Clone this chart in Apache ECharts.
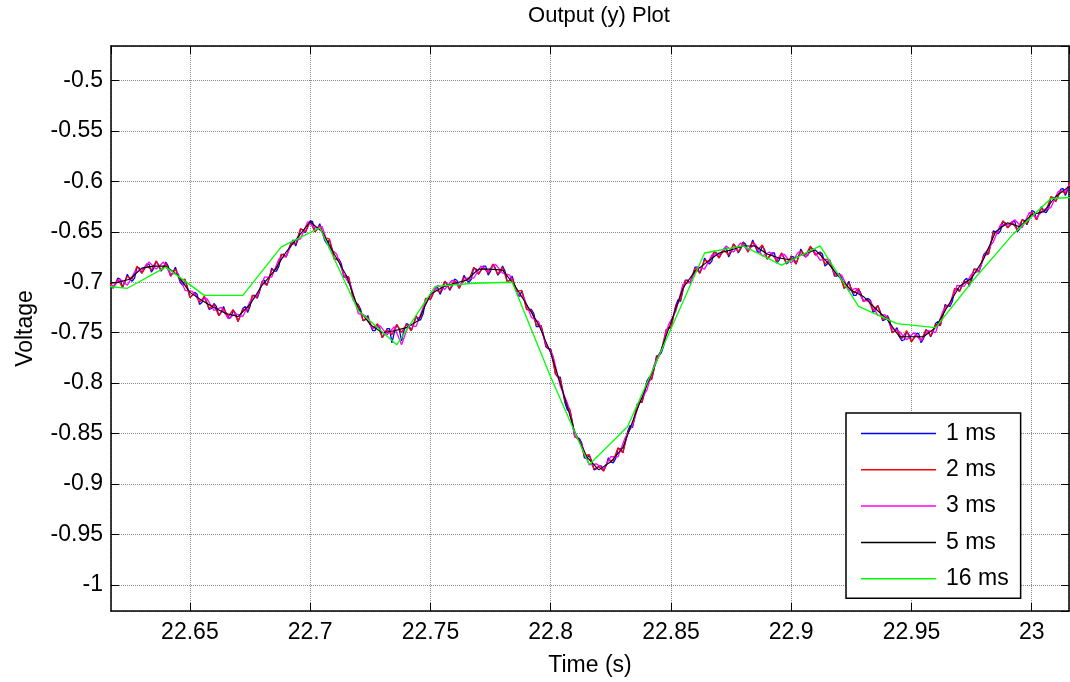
<!DOCTYPE html>
<html>
<head>
<meta charset="utf-8">
<script src="https://cdn.jsdelivr.net/npm/echarts@6/dist/echarts.min.js"></script>
<style>
html,body{margin:0;padding:0;background:#fff;}
#chart{width:1070px;height:682px;}
</style>
</head>
<body>
<div id="chart"></div>
<script>
// ---- data (Voltage samples) ----
const seriesNames = ['1 ms', '2 ms', '3 ms', '5 ms', '16 ms'];
const startTimes = [22.616, 22.616, 22.615, 22.615, 22.608];
const sampleSteps = [0.001, 0.002, 0.003, 0.005, 0.016];

const volt1ms = [
-0.697,-0.700,-0.706,-0.702,-0.696,-0.697,-0.705,-0.699,-0.692,-0.697,
-0.699,-0.696,-0.685,-0.686,-0.691,-0.687,-0.682,-0.682,-0.690,-0.686,
-0.679,-0.683,-0.689,-0.686,-0.680,-0.684,-0.694,-0.690,-0.685,-0.693,
-0.700,-0.703,-0.698,-0.705,-0.715,-0.713,-0.710,-0.712,-0.722,-0.720,
-0.714,-0.720,-0.727,-0.726,-0.721,-0.724,-0.733,-0.730,-0.724,-0.731,
-0.736,-0.735,-0.728,-0.731,-0.739,-0.733,-0.726,-0.724,-0.730,-0.724,
-0.713,-0.713,-0.716,-0.709,-0.699,-0.698,-0.703,-0.696,-0.686,-0.689,
-0.689,-0.684,-0.673,-0.672,-0.675,-0.668,-0.661,-0.658,-0.664,-0.657,
-0.647,-0.648,-0.651,-0.645,-0.639,-0.640,-0.650,-0.647,-0.642,-0.650,
-0.658,-0.662,-0.658,-0.666,-0.677,-0.677,-0.677,-0.682,-0.695,-0.695,
-0.695,-0.705,-0.718,-0.721,-0.722,-0.727,-0.738,-0.737,-0.733,-0.742,
-0.748,-0.748,-0.742,-0.746,-0.755,-0.751,-0.746,-0.746,-0.760,-0.750,
-0.742,-0.746,-0.758,-0.748,-0.741,-0.742,-0.748,-0.742,-0.733,-0.738,
-0.737,-0.731,-0.717,-0.715,-0.717,-0.712,-0.706,-0.705,-0.712,-0.707,
-0.699,-0.702,-0.708,-0.704,-0.697,-0.698,-0.706,-0.700,-0.693,-0.698,
-0.700,-0.697,-0.686,-0.687,-0.692,-0.688,-0.684,-0.684,-0.693,-0.689,
-0.682,-0.686,-0.693,-0.690,-0.684,-0.689,-0.700,-0.698,-0.694,-0.703,
-0.711,-0.714,-0.709,-0.716,-0.727,-0.727,-0.727,-0.731,-0.744,-0.744,
-0.743,-0.752,-0.764,-0.766,-0.766,-0.776,-0.791,-0.794,-0.794,-0.808,
-0.820,-0.827,-0.827,-0.838,-0.853,-0.854,-0.855,-0.860,-0.874,-0.875,
-0.871,-0.877,-0.886,-0.885,-0.882,-0.882,-0.887,-0.882,-0.874,-0.878,
-0.879,-0.875,-0.865,-0.865,-0.869,-0.859,-0.848,-0.842,-0.844,-0.834,
-0.821,-0.819,-0.819,-0.810,-0.798,-0.794,-0.796,-0.786,-0.773,-0.773,
-0.770,-0.763,-0.748,-0.745,-0.745,-0.734,-0.723,-0.717,-0.719,-0.708,
-0.698,-0.698,-0.701,-0.694,-0.685,-0.685,-0.691,-0.685,-0.676,-0.680,
-0.682,-0.679,-0.670,-0.671,-0.676,-0.671,-0.667,-0.666,-0.675,-0.670,
-0.662,-0.665,-0.671,-0.667,-0.660,-0.662,-0.670,-0.665,-0.658,-0.664,
-0.670,-0.670,-0.664,-0.668,-0.677,-0.674,-0.671,-0.671,-0.681,-0.678,
-0.671,-0.676,-0.682,-0.680,-0.674,-0.675,-0.682,-0.675,-0.667,-0.672,
-0.675,-0.673,-0.665,-0.667,-0.673,-0.671,-0.670,-0.672,-0.684,-0.682,
-0.678,-0.685,-0.694,-0.694,-0.691,-0.696,-0.706,-0.704,-0.699,-0.708,
-0.713,-0.713,-0.707,-0.711,-0.719,-0.717,-0.716,-0.718,-0.730,-0.728,
-0.723,-0.729,-0.738,-0.737,-0.733,-0.738,-0.750,-0.748,-0.745,-0.754,
-0.758,-0.757,-0.749,-0.752,-0.759,-0.755,-0.751,-0.751,-0.760,-0.756,
-0.747,-0.749,-0.754,-0.749,-0.741,-0.739,-0.743,-0.733,-0.722,-0.724,
-0.724,-0.719,-0.707,-0.706,-0.709,-0.703,-0.698,-0.696,-0.704,-0.698,
-0.687,-0.687,-0.690,-0.683,-0.673,-0.670,-0.672,-0.662,-0.649,-0.650,
-0.652,-0.649,-0.640,-0.641,-0.646,-0.643,-0.640,-0.640,-0.650,-0.647,
-0.638,-0.639,-0.643,-0.637,-0.629,-0.630,-0.638,-0.632,-0.625,-0.630,
-0.631,-0.627,-0.616,-0.616,-0.620,-0.614,-0.608,-0.607,-0.614,-0.608,
-0.600
];

const volt2ms = [
-0.697,-0.705,-0.697,-0.705,-0.694,-0.697,-0.684,-0.691,-0.683,-0.688,
-0.679,-0.688,-0.681,-0.694,-0.687,-0.698,-0.697,-0.715,-0.711,-0.720,
-0.714,-0.726,-0.722,-0.733,-0.726,-0.734,-0.727,-0.739,-0.727,-0.728,
-0.713,-0.715,-0.700,-0.703,-0.688,-0.687,-0.672,-0.675,-0.662,-0.662,
-0.647,-0.650,-0.640,-0.650,-0.644,-0.656,-0.657,-0.677,-0.678,-0.693,
-0.695,-0.717,-0.723,-0.738,-0.735,-0.746,-0.741,-0.755,-0.747,-0.752,
-0.742,-0.750,-0.742,-0.748,-0.735,-0.735,-0.716,-0.717,-0.707,-0.710,
-0.699,-0.707,-0.698,-0.706,-0.695,-0.698,-0.685,-0.692,-0.685,-0.691,
-0.682,-0.692,-0.685,-0.700,-0.696,-0.709,-0.708,-0.727,-0.728,-0.742,
-0.743,-0.763,-0.767,-0.791,-0.796,-0.818,-0.826,-0.853,-0.856,-0.872,
-0.871,-0.885,-0.883,-0.887,-0.876,-0.877,-0.864,-0.869,-0.849,-0.842,
-0.821,-0.818,-0.799,-0.796,-0.775,-0.768,-0.747,-0.745,-0.724,-0.717,
-0.698,-0.700,-0.686,-0.691,-0.678,-0.680,-0.669,-0.676,-0.668,-0.673,
-0.662,-0.670,-0.661,-0.670,-0.660,-0.668,-0.663,-0.677,-0.672,-0.679,
-0.671,-0.681,-0.675,-0.682,-0.669,-0.673,-0.664,-0.673,-0.671,-0.682,
-0.678,-0.693,-0.692,-0.706,-0.701,-0.711,-0.706,-0.719,-0.717,-0.728,
-0.723,-0.737,-0.734,-0.750,-0.747,-0.756,-0.748,-0.759,-0.752,-0.758,
-0.747,-0.753,-0.742,-0.743,-0.724,-0.722,-0.706,-0.709,-0.699,-0.702,
-0.687,-0.689,-0.674,-0.672,-0.651,-0.650,-0.639,-0.646,-0.641,-0.648,
-0.638,-0.642,-0.630,-0.638,-0.627,-0.629,-0.615,-0.620,-0.609,-0.612,
-0.600
];

const volt3ms = [
-0.698,-0.705,-0.697,-0.703,-0.690,-0.688,-0.680,-0.687,-0.680,-0.692,
-0.691,-0.708,-0.709,-0.718,-0.716,-0.728,-0.725,-0.736,-0.731,-0.734,
-0.719,-0.713,-0.695,-0.695,-0.677,-0.674,-0.659,-0.657,-0.640,-0.646,
-0.645,-0.666,-0.672,-0.693,-0.704,-0.731,-0.733,-0.746,-0.743,-0.752,
-0.744,-0.762,-0.742,-0.744,-0.725,-0.714,-0.703,-0.707,-0.698,-0.704,
-0.696,-0.696,-0.684,-0.689,-0.682,-0.691,-0.693,-0.711,-0.716,-0.735,
-0.739,-0.761,-0.773,-0.803,-0.820,-0.852,-0.861,-0.881,-0.880,-0.885,
-0.873,-0.873,-0.854,-0.842,-0.818,-0.807,-0.782,-0.768,-0.742,-0.729,
-0.702,-0.700,-0.685,-0.687,-0.673,-0.673,-0.664,-0.670,-0.661,-0.668,
-0.662,-0.674,-0.670,-0.677,-0.672,-0.681,-0.670,-0.675,-0.667,-0.678,
-0.677,-0.691,-0.693,-0.708,-0.706,-0.718,-0.719,-0.733,-0.732,-0.746,
-0.749,-0.757,-0.750,-0.758,-0.748,-0.750,-0.729,-0.722,-0.703,-0.704,
-0.692,-0.689,-0.670,-0.660,-0.643,-0.643,-0.638,-0.646,-0.631,-0.636,
-0.628,-0.626,-0.610,-0.610,-0.599
];

const volt5ms = [
-0.702,-0.700,-0.697,-0.686,-0.684,-0.684,-0.693,-0.710,-0.718,-0.725,
-0.731,-0.734,-0.722,-0.703,-0.689,-0.670,-0.655,-0.640,-0.650,-0.672,
-0.693,-0.726,-0.742,-0.750,-0.748,-0.745,-0.738,-0.712,-0.705,-0.701,
-0.698,-0.687,-0.687,-0.688,-0.703,-0.722,-0.742,-0.770,-0.808,-0.848,
-0.873,-0.886,-0.878,-0.864,-0.832,-0.802,-0.773,-0.740,-0.706,-0.689,
-0.680,-0.671,-0.668,-0.664,-0.664,-0.672,-0.676,-0.678,-0.672,-0.668,
-0.680,-0.695,-0.708,-0.714,-0.726,-0.737,-0.754,-0.754,-0.754,-0.745,
-0.724,-0.704,-0.696,-0.677,-0.650,-0.641,-0.645,-0.633,-0.630,-0.615,
-0.606,-0.600
];

const volt16ms = [
-0.702,-0.706,-0.685,-0.713,-0.713,-0.665,-0.646,-0.728,-0.762,-0.704,
-0.701,-0.700,-0.794,-0.881,-0.843,-0.757,-0.671,-0.664,-0.683,-0.664,
-0.724,-0.741,-0.745,-0.697,-0.653,-0.617,-0.615
];

const xTickStep = 0.05;
const yTickStep = 0.05;

// ---- chart ----
const seriesValues = [volt1ms, volt2ms, volt3ms, volt5ms, volt16ms];
const colors = ['#0000ff', '#ff0000', '#ff00ff', '#000000', '#00ff00'];
const FONT = "'Liberation Sans', Arial, Helvetica, sans-serif";

function toPairs(t0, dt, vals) {
  return vals.map(function (v, i) { return [+(t0 + i * dt).toFixed(4), v]; });
}

const X_MIN = 22.6172, X_MAX = 23.0155;
const Y_MIN = -1.0259, Y_MAX = -0.4658;

const gridLine = { show: true, lineStyle: { color: '#8a8a8a', width: 1, type: [1, 1] } };
const axisLineStyle = { show: true, onZero: false, lineStyle: { color: '#000', width: 1.5 } };
const tickStyle = { show: true, inside: true, length: 8, lineStyle: { color: '#000', width: 1 } };
const labelStyle = { color: '#000', fontSize: 23, fontFamily: FONT, showMinLabel: false, showMaxLabel: false };

const chart = echarts.init(document.getElementById('chart'), null, { renderer: 'canvas' });
chart.setOption({
  animation: false,
  backgroundColor: '#fff',
  color: colors,
  title: {
    text: 'Output (y) Plot',
    left: 594,
    textAlign: 'center',
    top: 0,
    textStyle: { color: '#000', fontSize: 22, fontWeight: 'normal', fontFamily: FONT }
  },
  grid: { left: 111, top: 46, width: 958, height: 568, containLabel: false },
  xAxis: [
    {
      type: 'value', min: X_MIN, max: X_MAX, position: 'bottom',
      splitNumber: 8, minInterval: xTickStep, maxInterval: xTickStep,
      axisLine: axisLineStyle, axisTick: tickStyle,
      axisLabel: Object.assign({ margin: 10 }, labelStyle),
      splitLine: gridLine,
      name: 'Time (s)', nameLocation: 'middle', nameGap: 43,
      nameTextStyle: { color: '#000', fontSize: 23, fontFamily: FONT }
    },
    {
      type: 'value', min: X_MIN, max: X_MAX, position: 'top',
      splitNumber: 8, minInterval: xTickStep, maxInterval: xTickStep,
      axisLine: axisLineStyle, axisTick: tickStyle,
      axisLabel: { show: false }, splitLine: { show: false }
    }
  ],
  yAxis: [
    {
      type: 'value', min: Y_MIN, max: Y_MAX, position: 'left',
      splitNumber: 11, minInterval: yTickStep, maxInterval: yTickStep,
      axisLine: axisLineStyle, axisTick: tickStyle,
      axisLabel: Object.assign({ margin: 8 }, labelStyle),
      splitLine: gridLine,
      name: 'Voltage', nameLocation: 'middle', nameGap: 74,
      nameTextStyle: { color: '#000', fontSize: 23, fontFamily: FONT }
    },
    {
      type: 'value', min: Y_MIN, max: Y_MAX, position: 'right',
      splitNumber: 11, minInterval: yTickStep, maxInterval: yTickStep,
      axisLine: axisLineStyle, axisTick: tickStyle,
      axisLabel: { show: false }, splitLine: { show: false }
    }
  ],
  legend: {
    show: true,
    orient: 'vertical',
    left: 846, top: 413,
    backgroundColor: '#fff',
    borderColor: '#000', borderWidth: 1.5,
    padding: [9, 12, 8, 15],
    icon: 'rect',
    itemWidth: 75, itemHeight: 1.5, itemGap: 13.3,
    textStyle: { color: '#000', fontSize: 23, fontFamily: FONT, lineHeight: 22, padding: [0, 0, 0, 5] },
    data: seriesNames
  },
  series: seriesNames.map(function (name, k) {
    return {
      name: name,
      type: 'line',
      xAxisIndex: 0, yAxisIndex: 0,
      data: toPairs(startTimes[k], sampleSteps[k], seriesValues[k]),
      showSymbol: false, symbol: 'none',
      clip: true,
      lineStyle: { color: colors[k], width: k === 3 ? 1.1 : 1.3 },
      itemStyle: { color: colors[k] },
      z: 2 + k
    };
  })
});
</script>
</body>
</html>
